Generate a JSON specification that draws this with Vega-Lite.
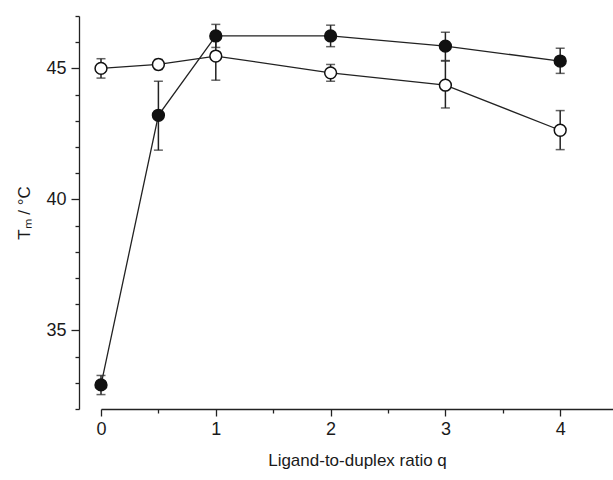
{
  "$schema": "https://vega.github.io/schema/vega-lite/v6.json",
  "autosize": "none",
  "padding": {"left": 101, "top": 16, "right": 0, "bottom": 71},
  "width": 512,
  "height": 393,
  "background": "white",
  "config": {
    "view": {"stroke": null},
    "font": "Liberation Sans",
    "axis": {
      "domainColor": "#222",
      "domainWidth": 1.3,
      "tickColor": "#222",
      "tickWidth": 1.3,
      "labelFont": "Liberation Sans",
      "labelFontSize": 18,
      "labelColor": "#1a1a1a",
      "titleFont": "Liberation Sans",
      "titleFontSize": 17,
      "titleFontWeight": "normal",
      "titleColor": "#1a1a1a",
      "grid": false
    }
  },
  "data": {
    "values": [
      {"series": "filled", "q": 0, "Tm": 32.92, "lo": 32.55, "hi": 33.28},
      {"series": "filled", "q": 0.5, "Tm": 43.21, "lo": 41.88, "hi": 44.51},
      {"series": "filled", "q": 1, "Tm": 46.24, "lo": 45.8, "hi": 46.68},
      {"series": "filled", "q": 2, "Tm": 46.24, "lo": 45.83, "hi": 46.65},
      {"series": "filled", "q": 3, "Tm": 45.85, "lo": 45.3, "hi": 46.38},
      {"series": "filled", "q": 4, "Tm": 45.28, "lo": 44.81, "hi": 45.77},
      {"series": "open", "q": 0, "Tm": 45.0, "lo": 44.63, "hi": 45.37},
      {"series": "open", "q": 0.5, "Tm": 45.15, "lo": 44.96, "hi": 45.34},
      {"series": "open", "q": 1, "Tm": 45.47, "lo": 44.55, "hi": 46.39},
      {"series": "open", "q": 2, "Tm": 44.83, "lo": 44.51, "hi": 45.15},
      {"series": "open", "q": 3, "Tm": 44.36, "lo": 43.49, "hi": 45.28},
      {"series": "open", "q": 4, "Tm": 42.64, "lo": 41.9, "hi": 43.39}
    ]
  },
  "encoding": {
    "x": {
      "field": "q",
      "type": "quantitative",
      "scale": {"domain": [0, 4.46], "nice": false, "zero": false},
      "axis": {
        "title": "Ligand-to-duplex ratio q",
        "format": "~g",
        "values": [0, 0.5, 1, 1.5, 2, 2.5, 3, 3.5, 4],
        "labelExpr": "datum.value % 1 === 0 ? datum.label : ''",
        "tickSize": {"condition": {"test": "datum.value % 1 === 0", "value": 7}, "value": 4},
        "labelPadding": 4,
        "titlePadding": 14,
        "labelFlush": false
      }
    },
    "y": {
      "field": "Tm",
      "type": "quantitative",
      "scale": {"domain": [32, 47], "nice": false, "zero": false},
      "axis": {
        "title": "Tₘ / °C",
        "format": "d",
        "offset": 22,
        "values": [32, 33, 34, 35, 36, 37, 38, 39, 40, 41, 42, 43, 44, 45, 46, 47],
        "labelExpr": "datum.value % 5 === 0 ? datum.label : ''",
        "tickSize": {"condition": {"test": "datum.value % 5 === 0", "value": 8}, "value": 4},
        "labelPadding": 5,
        "titlePadding": 12,
        "labelFlush": false
      }
    }
  },
  "layer": [
    {
      "mark": {"type": "line", "color": "#222", "strokeWidth": 1.3},
      "encoding": {"detail": {"field": "series"}}
    },
    {
      "mark": {"type": "rule", "color": "#222", "strokeWidth": 1.5},
      "encoding": {
        "y": {"field": "lo", "type": "quantitative"},
        "y2": {"field": "hi"}
      }
    },
    {
      "mark": {"type": "tick", "orient": "horizontal", "color": "#222", "size": 9, "thickness": 1.5},
      "encoding": {"y": {"field": "lo", "type": "quantitative"}}
    },
    {
      "mark": {"type": "tick", "orient": "horizontal", "color": "#222", "size": 9, "thickness": 1.5},
      "encoding": {"y": {"field": "hi", "type": "quantitative"}}
    },
    {
      "mark": {"type": "point", "shape": "circle", "filled": true, "size": 140, "stroke": "#111", "strokeWidth": 1.5, "opacity": 1},
      "encoding": {
        "fill": {
          "field": "series",
          "type": "nominal",
          "scale": {"domain": ["filled", "open"], "range": ["#111", "#ffffff"]},
          "legend": null
        }
      }
    }
  ]
}
